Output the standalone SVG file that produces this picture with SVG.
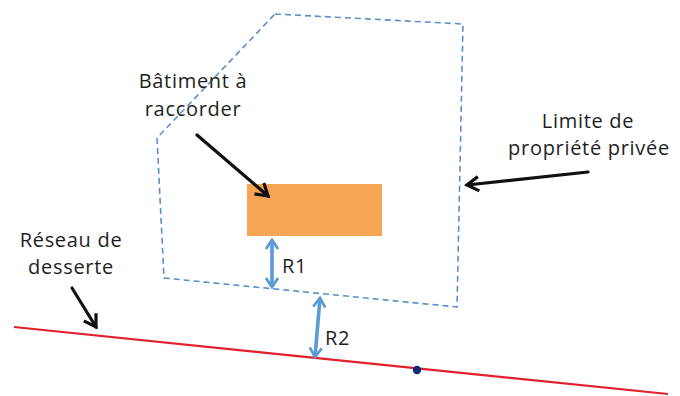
<svg xmlns="http://www.w3.org/2000/svg" width="680" height="396" viewBox="0 0 680 396">
<style>
.lbl{font-family:"Open Sans","Liberation Sans",sans-serif;font-size:20px;letter-spacing:0.7px;fill:#1e1e1e}
.blk{stroke:#111;stroke-width:3.2;fill:none;stroke-linecap:round}
.blue{stroke:#5B9BD5;stroke-width:3.6;fill:none}
</style>
<defs>
<marker id="ah" viewBox="0 0 10 10" refX="8" refY="5" markerWidth="5.6" markerHeight="5.6" orient="auto" markerUnits="strokeWidth">
<polyline points="1.5,1 8,5 1.5,9" fill="none" stroke="#111" stroke-width="1.8" stroke-linejoin="miter"/>
</marker>
<marker id="bh" viewBox="0 0 10 10" refX="8" refY="5" markerWidth="4.2" markerHeight="4.2" orient="auto-start-reverse" markerUnits="strokeWidth">
<polyline points="2,1 8,5 2,9" fill="none" stroke="#5B9BD5" stroke-width="1.8"/>
</marker>
</defs>
<rect width="680" height="396" fill="#fff"/>
<g id="propriete">
<polygon points="275,14 463,24 457,307 164,278 157,138" fill="none" stroke="#5B8FCB" stroke-width="1.6" stroke-dasharray="6,4"/>
</g>
<g id="batiment">
<rect x="247" y="184" width="135" height="52" fill="#F6A555"/>
</g>
<g id="reseau">
<line x1="14" y1="327" x2="668" y2="394" stroke="#E31E2D" stroke-width="2.2"/>
<circle cx="417" cy="370" r="4.2" fill="#0B2A78"/>
</g>
<g id="labels">
<text class="lbl" x="193" y="88" text-anchor="middle">Bâtiment à</text>
<text class="lbl" x="193" y="116" text-anchor="middle">raccorder</text>
<text class="lbl" x="588" y="128" text-anchor="middle">Limite de</text>
<text class="lbl" x="589" y="155" text-anchor="middle">propriété privée</text>
<text class="lbl" x="71" y="247" text-anchor="middle">Réseau de</text>
<text class="lbl" x="71" y="274" text-anchor="middle">desserte</text>
<text class="lbl" x="282" y="273">R1</text>
<text class="lbl" x="325" y="345">R2</text>
</g>
<g id="connectors">
<line class="blk" x1="197" y1="135" x2="268" y2="196" marker-end="url(#ah)"/>
<line class="blk" x1="588" y1="172" x2="467" y2="185" marker-end="url(#ah)"/>
<line class="blk" x1="72" y1="288" x2="96" y2="327" marker-end="url(#ah)"/>
<line class="blue" x1="272" y1="240" x2="272" y2="287" marker-start="url(#bh)" marker-end="url(#bh)"/>
<line class="blue" x1="320" y1="298" x2="315" y2="357" marker-start="url(#bh)" marker-end="url(#bh)"/>
</g>
</svg>
